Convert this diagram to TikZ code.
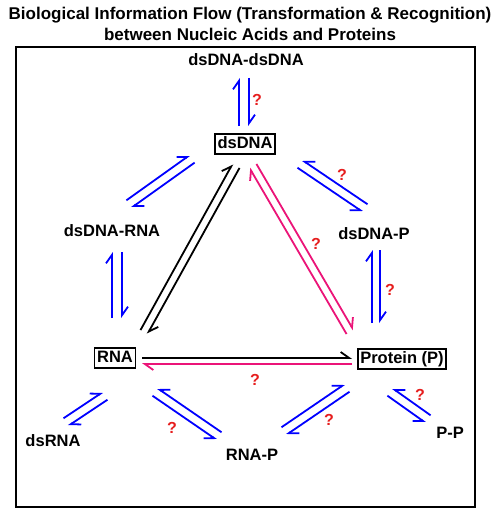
\documentclass[tikz,border=0pt]{standalone}
\usepackage{fontspec}
\setmainfont{Liberation Sans}
\usetikzlibrary{calc,arrows.meta}
\definecolor{flowblue}{RGB}{0, 0, 255}
\definecolor{flowpink}{RGB}{235, 20, 120}
\definecolor{qred}{RGB}{230, 30, 30}

% pair of harpoons between two named nodes (ends shifted from the node centres)
\newcommand{\eqpair}[6][4.5]{%
    \coordinate (s) at ($(#3)+(#4)$);
    \coordinate (t) at ($(#5)+(#6)$);
    \draw[harp,#2] ($(s)!#1pt!90:(t)$) -- ($(t)!#1pt!-90:(s)$);
    \draw[harp,#2] ($(t)!#1pt!90:(s)$) -- ($(s)!#1pt!-90:(t)$);
}
% same, mirrored
\newcommand{\eqpairsw}[6][4.5]{%
    \coordinate (s) at ($(#3)+(#4)$);
    \coordinate (t) at ($(#5)+(#6)$);
    \draw[harpsw,#2] ($(s)!#1pt!-90:(t)$) -- ($(t)!#1pt!90:(s)$);
    \draw[harpsw,#2] ($(t)!#1pt!-90:(s)$) -- ($(s)!#1pt!90:(t)$);
}

\begin{document}
\begin{tikzpicture}[x=1pt, y=-1pt,
    lbl/.style={font=\fontsize{16.5}{20}\selectfont\bfseries, inner sep=0pt},
    box/.style={lbl, draw, line width=1.6pt, inner sep=2.5pt, text height=12pt, text depth=3.5pt},
    qmark/.style={font=\fontsize{16}{18}\selectfont\bfseries, text=qred, inner sep=0pt},
    harp/.style={-{Straight Barb[harpoon, length=8.5pt, width=12pt]}, line width=1.8pt},
    harpsw/.style={-{Straight Barb[harpoon, swap, length=8.5pt, width=12pt]}, line width=1.8pt}]
    \useasboundingbox (0,0) rectangle (500,508);

    % Title and frame
    \node[lbl, align=center, font=\fontsize{17}{21}\selectfont\bfseries] (title) at (250,24)
        {Biological Information Flow (Transformation \& Recognition)\\between Nucleic Acids and Proteins};
    \draw[line width=2pt] (16,47) rectangle (475,507);

    % Molecules
    \node[lbl] (ddna) at (246,60) {dsDNA-dsDNA};
    \node[box] (dsdna) at (245,144) {dsDNA};
    \node[lbl] (dnarna) at (112,231) {dsDNA-RNA};
    \node[lbl] (dnap) at (374,234) {dsDNA-P};
    \node[box] (rna) at (115,358) {RNA};
    \node[box] (prot) at (402,359) {Protein (P)};
    \node[lbl] (dsrna) at (53,441) {dsRNA};
    \node[lbl] (rnap) at (252,455) {RNA-P};
    \node[lbl] (pp) at (450,433) {P-P};

    % Main flow
    \eqpair[4]{black}{rna}{29,-26}{dsdna}{-9,22}
    \eqpair[4]{flowpink}{dsdna}{8,22}{prot}{-52,-27}
    \draw[harp,black] ($(rna)+(27,0)$) -- ($(prot)+(-50,-1)$);
    \draw[harp,flowpink] ($(prot)+(-50,5)$) -- ($(rna)+(27,6)$);

    % Complexes
    \eqpair[5]{flowblue}{ddna}{-2,18}{dsdna}{-1,-18}
    \eqpair{flowblue}{dnarna}{17,-27}{dsdna}{-53,15}
    \eqpairsw{flowblue}{dsdna}{55,20}{dnap}{-9,-26}
    \eqpair[5]{flowblue}{dnarna}{5,21}{rna}{2,-40}
    \eqpair[4]{flowblue}{dnap}{2,16}{prot}{-26,-36}
    \eqpair{flowblue}{dsrna}{13,-19}{rna}{-10,38}
    \eqpairsw{flowblue}{rna}{40,34}{rnap}{-33,-19}
    \eqpair{flowblue}{rnap}{32,-24}{prot}{-55,29}
    \eqpairsw{flowblue}{prot}{-12,33}{pp}{-22,-14}

    % Open questions
    \node[qmark] (q1) at (257,100) {?};
    \node[qmark] (q2) at (342,175) {?};
    \node[qmark] (q3) at (316,244) {?};
    \node[qmark] (q4) at (390,290) {?};
    \node[qmark] (q5) at (255,380) {?};
    \node[qmark] (q6) at (172,428) {?};
    \node[qmark] (q7) at (329,420) {?};
    \node[qmark] (q8) at (420,395) {?};
\end{tikzpicture}
\end{document}
